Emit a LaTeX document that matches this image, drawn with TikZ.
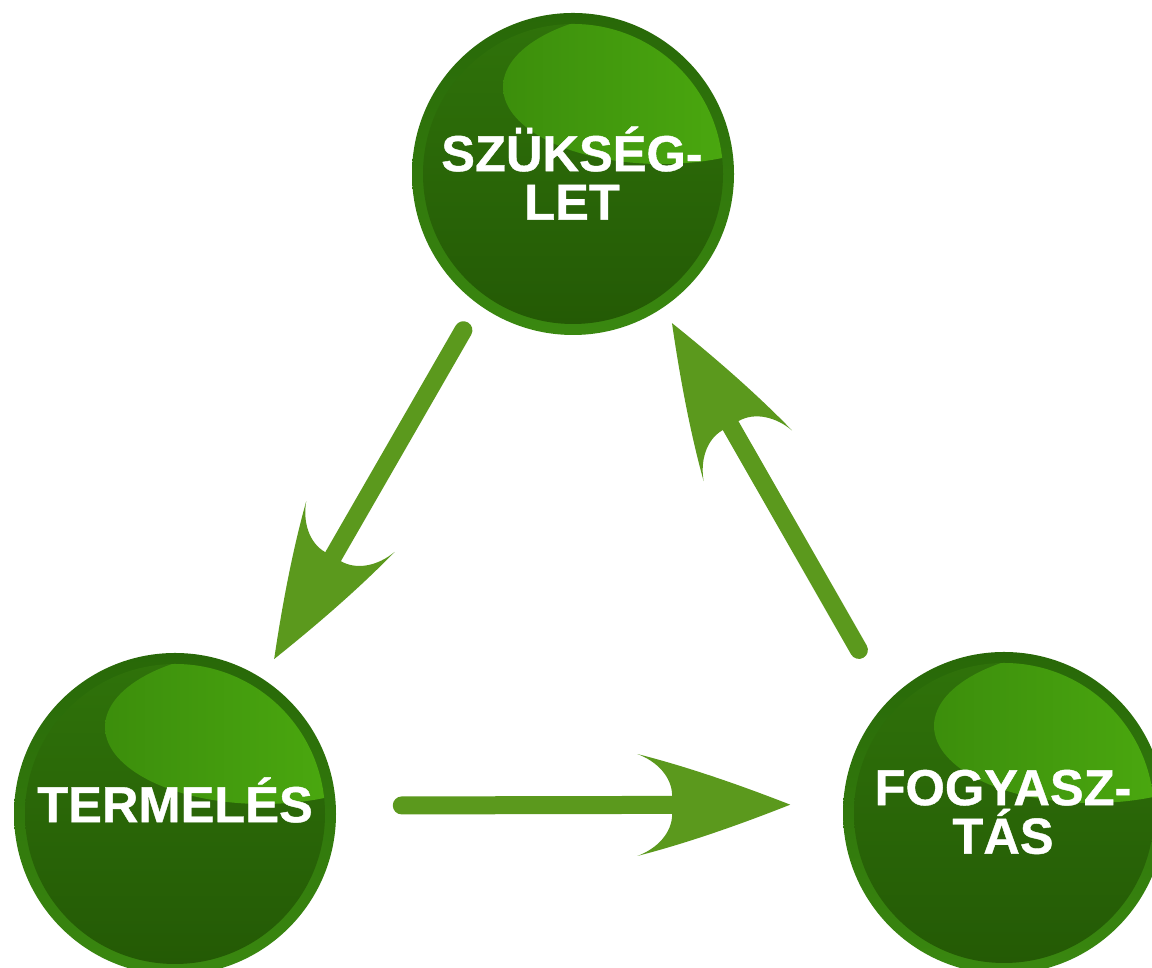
\documentclass[tikz,border=0pt]{standalone}
\usepackage{fontspec}
\newfontfamily\ballfont{Liberation Sans}[BoldFeatures={FakeBold=0.8}]
\usetikzlibrary{arrows.meta}
\definecolor{ballrimtop}{RGB}{40,104,8}
\definecolor{ballrimbot}{RGB}{58,136,16}
\definecolor{ballbodytop}{RGB}{47,114,10}
\definecolor{ballbodybot}{RGB}{36,90,5}
\definecolor{glossdim}{RGB}{60,142,12}
\definecolor{glossbright}{RGB}{80,178,16}
\definecolor{arrowgreen}{RGB}{91,153,29}

% leaf shaped arrow head, tip at the path end
\pgfdeclarearrow{
  name = Leaf,
  setup code = {
    \pgfarrowssettipend{0pt}
    \pgfarrowssetlineend{-30pt}
    \pgfarrowssetbackend{-43.5pt}
    \pgfarrowssetvisualbackend{-33.6pt}
  },
  drawing code = {
    \pgfpathmoveto{\pgfqpoint{0pt}{0pt}}
    \pgfpathcurveto{\pgfqpoint{-14pt}{5.5pt}}{\pgfqpoint{-29pt}{10.8pt}}{\pgfqpoint{-43.5pt}{14.5pt}}
    \pgfpathcurveto{\pgfqpoint{-38pt}{12.5pt}}{\pgfqpoint{-33.6pt}{8pt}}{\pgfqpoint{-33.6pt}{2.6pt}}
    \pgfpathlineto{\pgfqpoint{-33.6pt}{-2.6pt}}
    \pgfpathcurveto{\pgfqpoint{-33.6pt}{-8pt}}{\pgfqpoint{-38pt}{-12.5pt}}{\pgfqpoint{-43.5pt}{-14.5pt}}
    \pgfpathcurveto{\pgfqpoint{-29pt}{-10.8pt}}{\pgfqpoint{-14pt}{-5.5pt}}{\pgfqpoint{0pt}{0pt}}
    \pgfpathclose
    \pgfusepathqfill
  }
}

\begin{document}
\begin{tikzpicture}[
    ball/.style={circle, minimum size=3.22cm, inner sep=0pt, outer sep=0pt,
      path picture={
        \begin{scope}[shift={(path picture bounding box.center)}]
          \shade[top color=ballrimtop, bottom color=ballrimbot] (0,0) circle (1.61);
          \shade[top color=ballbodytop, bottom color=ballbodybot] (0,0) circle (1.50);
          \clip (0,0) circle (1.50);
          \shade[left color=glossdim, right color=glossbright, rotate around={-13:(0.88,0.87)}]
            (0.88,0.87) ellipse (1.58 and 0.77);
        \end{scope}
      }},
    balltext/.style={text=white, align=center, font=\ballfont\bfseries\fontsize{14.4}{13.8}\selectfont},
    flowarrow/.style={-Leaf, arrowgreen, line width=0.18cm, line cap=round}
  ]
    \fill[white] (0,0) rectangle (11.52,9.68);
    \useasboundingbox (0,0) rectangle (11.52,9.68);

    % Spheres
    \node[ball] (need) at (5.73, 7.94) {};
    \node[ball] (prod) at (1.75, 1.54) {};
    \node[ball] (cons) at (10.04, 1.55) {};

    % Labels
    \node[balltext] (needtext) at (5.72, 7.95) {SZÜKSÉG-\\LET};
    \node[balltext] (prodtext) at (1.75, 1.68) {TERMELÉS};
    \node[balltext] (constext) at (10.03, 1.56) {FOGYASZ-\\TÁS};

    % Cycle
    \draw[flowarrow, shorten <=0.30cm, shorten >=0.23cm] (need.234.15) -- (prod.57.6);
    \draw[flowarrow, shorten <=0.66cm, shorten >=0.53cm] (prod.3.2) -- (cons.177.15);
    \draw[flowarrow, shorten <=0.59cm, shorten >=0.18cm] (cons.136) -- (need.304);
\end{tikzpicture}
\end{document}
